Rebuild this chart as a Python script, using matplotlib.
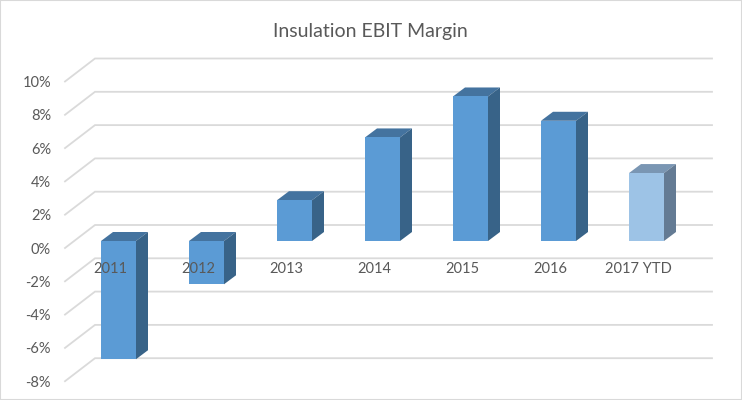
import numpy as np
import matplotlib.pyplot as plt
from matplotlib.patches import Polygon, Rectangle

plt.rcParams['font.family'] = ['Lato', 'DejaVu Sans']

categories = ['2011', '2012', '2013', '2014', '2015', '2016', '2017 YTD']
margins = [-7.1, -2.6, 2.45, 6.22, 8.68, 7.22, 4.08]
y_ticks = [10, 8, 6, 4, 2, 0, -2, -4, -6, -8]

front_colors = ['#5B9BD5'] * 6 + ['#9DC3E6']
top_colors = ['#44739F'] * 6 + ['#7A96B3']
side_colors = ['#386388'] * 6 + ['#647B94']

text_color = '#595959'
grid_color = '#DADADA'

# sizes of the fake 3d look, pixels to data units
px_x = 1 / 88
px_y = 1 / 16.65
bar_w = 35 * px_x
side_dx = 12 * px_x
side_dy = 9 * px_y

fig = plt.figure(figsize=(7.42, 4), dpi=100)
ax = fig.add_axes([0, 0, 1, 1])
ax.set_xlim(-118.5 * px_x, (742 - 118.5) * px_x)
ax.set_ylim((241 - 400) * px_y, 241 * px_y)
ax.axis('off')

# gridlines: slanted floor part then the back wall
x_front = -53.5 * px_x
x_back = -23.5 * px_x
x_end = 593.5 * px_x
for t in y_ticks:
    y_f = t - 7 * px_y
    y_b = t + 16 * px_y
    ax.plot([x_front, x_back, x_end], [y_f, y_b, y_b], color=grid_color, lw=1.3,
            solid_joinstyle='miter', zorder=1)
    ax.text(x_front - 14 * px_x, y_f - 1.5 * px_y, f'{t}%', ha='right', va='center',
            fontsize=10.5, color=text_color, zorder=5)

# bars
x = np.arange(len(categories))
ax.bar(x, margins, width=bar_w, color=front_colors, linewidth=0, zorder=3)
for i, v in enumerate(margins):
    left = x[i] - bar_w / 2
    right = x[i] + bar_w / 2
    hi = max(v, 0)
    lo = min(v, 0)
    ax.add_patch(Polygon([(left, hi), (right, hi), (right + side_dx, hi + side_dy),
                          (left + side_dx, hi + side_dy)], closed=True,
                         facecolor=top_colors[i], edgecolor='none', zorder=2.5))
    ax.add_patch(Polygon([(right, hi), (right + side_dx, hi + side_dy),
                          (right + side_dx, lo + side_dy), (right, lo)], closed=True,
                         facecolor=side_colors[i], edgecolor='none', zorder=2.5))

# category labels sit near the zero line, on top of the bars
for i, c in enumerate(categories):
    ax.text(x[i] - 8 * px_x, -1.68, c, ha='center', va='center',
            fontsize=10.5, color=text_color, zorder=5)

ax.text((370.5 - 118.5) * px_x, (241 - 31) * px_y, 'Insulation EBIT Margin', ha='center', va='center',
        fontsize=14, color=text_color)

# chart frame
ax.add_patch(Rectangle((0, 0), 1, 1, transform=ax.transAxes, fill=False,
                       edgecolor='#D9D9D9', lw=1.5, clip_on=True, zorder=6))

fig.savefig('out.png', dpi=100)
